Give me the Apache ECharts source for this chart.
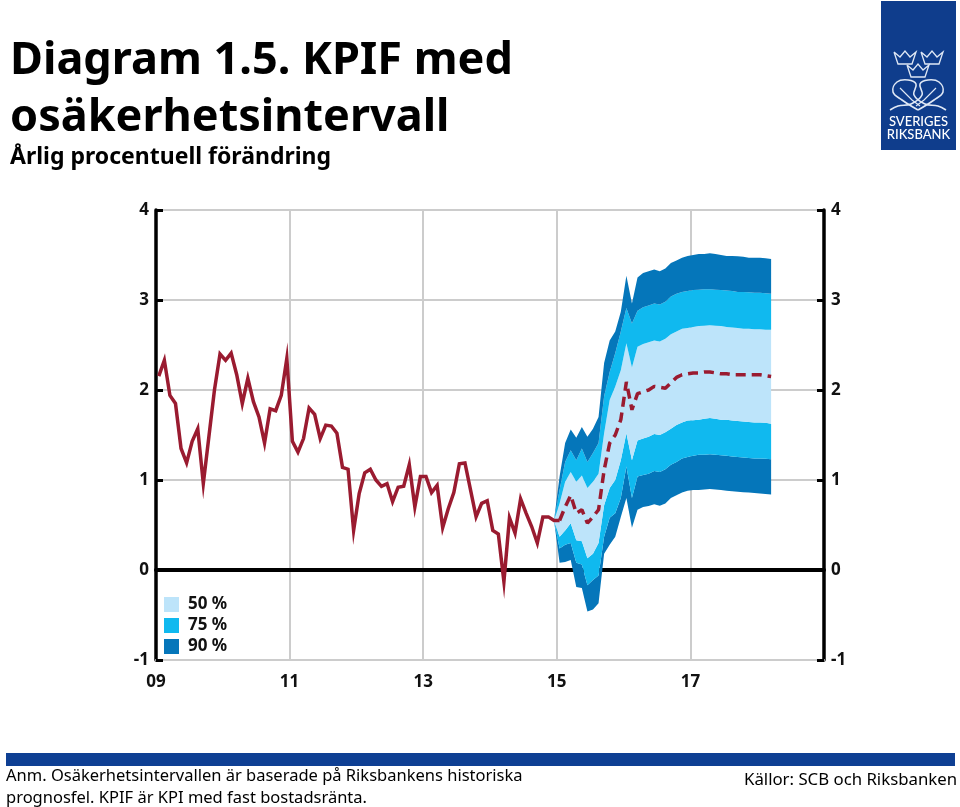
<!DOCTYPE html>
<html><head><meta charset="utf-8">
<style>html,body{margin:0;padding:0;background:#fff}#c{width:960px;height:807px}</style>
<script src="https://cdn.jsdelivr.net/npm/echarts@6/dist/echarts.min.js"></script>
</head><body><div id="c"></div>
<script>
const yearTicks = ['09','11','13','15','17'];
const history = [2.155,2.33,1.94,1.85,1.35,1.19,1.43,1.57,0.96,1.48,2.0,2.40,2.33,2.41,2.17,1.85,2.13,1.87,1.70,1.41,1.79,1.77,1.94,2.35,1.43,1.31,1.46,1.80,1.73,1.46,1.61,1.60,1.52,1.14,1.12,
 0.44,0.85,1.08,1.12,1.0,0.93,0.96,0.76,0.92,0.93,1.17,0.70,1.04,1.04,0.86,0.94,0.47,0.68,0.86,1.18,1.19,0.89,0.59,0.74,0.77,0.44,0.40,-0.13,0.58,0.41,0.79,0.63,0.48,0.30,0.59,0.59,0.55,0.55];
// forecast arrays start at month index 71
const forecastStart = 71;
const median = [0.55,0.55,0.70,0.83,0.63,0.67,0.52,0.59,0.67,1.11,1.41,1.50,1.67,2.09,1.78,1.96,1.98,2.00,2.04,2.03,2.02,2.08,2.14,2.17,2.18,2.19,2.19,2.20,2.20,2.19,2.18,2.18,2.17,2.17,2.17,2.17,2.17,2.17,2.16,2.15];
const lower90 = [0.55,0.08,0.09,0.11,-0.19,-0.20,-0.46,-0.44,-0.37,0.18,0.28,0.37,0.59,0.80,0.47,0.67,0.70,0.71,0.73,0.715,0.74,0.80,0.83,0.86,0.88,0.89,0.89,0.895,0.90,0.895,0.89,0.88,0.875,0.87,0.865,0.86,0.855,0.85,0.845,0.84];
const lower75 = [0.55,0.24,0.28,0.30,0.08,0.06,-0.17,-0.11,-0.06,0.37,0.58,0.63,0.80,1.15,0.80,1.04,1.055,1.07,1.10,1.09,1.12,1.17,1.20,1.24,1.255,1.27,1.28,1.28,1.285,1.28,1.275,1.27,1.26,1.255,1.25,1.245,1.24,1.24,1.235,1.23];
const lower50 = [0.55,0.37,0.44,0.52,0.33,0.32,0.13,0.18,0.30,0.72,0.91,1.00,1.22,1.52,1.22,1.44,1.46,1.48,1.51,1.50,1.53,1.57,1.61,1.64,1.66,1.665,1.67,1.68,1.69,1.68,1.67,1.67,1.66,1.655,1.65,1.645,1.64,1.64,1.635,1.625];
const upper50 = [0.55,0.74,0.98,1.09,0.98,1.05,0.91,0.98,1.07,1.52,1.89,2.04,2.22,2.52,2.25,2.48,2.51,2.53,2.55,2.54,2.57,2.62,2.65,2.68,2.69,2.70,2.71,2.715,2.72,2.715,2.71,2.70,2.695,2.69,2.68,2.68,2.675,2.675,2.67,2.67];
const upper75 = [0.55,0.89,1.20,1.33,1.22,1.35,1.20,1.30,1.41,1.93,2.20,2.41,2.65,2.91,2.74,2.88,2.92,2.94,2.96,2.95,2.98,3.04,3.07,3.09,3.10,3.11,3.115,3.12,3.12,3.115,3.11,3.105,3.10,3.09,3.09,3.085,3.08,3.08,3.075,3.07];
const upper90 = [0.55,1.04,1.41,1.56,1.47,1.59,1.48,1.57,1.70,2.30,2.55,2.65,2.87,3.27,2.96,3.25,3.30,3.32,3.34,3.32,3.35,3.41,3.44,3.47,3.49,3.50,3.51,3.51,3.52,3.51,3.50,3.49,3.49,3.485,3.48,3.47,3.47,3.47,3.465,3.455];

const months = [];
for (let y = 2009; y < 2019; y++) for (let m = 1; m <= 12; m++) months.push(y + '-' + m);

const DARK='#0576ba', MID='#10b9ef', LIGHT='#bde4fa', RED='#9a1b30', LOGO='#0f3d8c';
const LABEL='"Noto Sans","Open Sans",sans-serif';
const bandSeries = (name, color, hi, lo) => ({
  name, type:'line', stack:'band', stackStrategy:'all', symbol:'none', z:3, silent:true,
  lineStyle:{width:0,opacity:0}, itemStyle:{color}, areaStyle:{color,opacity:1},
  data: hi.map((v,k)=>[forecastStart+k, lo ? +(v-lo[k]).toFixed(3) : v])
});
const layers = [
  Object.assign(bandSeries('base','transparent',lower90),{areaStyle:{opacity:0}}),
  bandSeries('90 %',DARK,lower75,lower90),
  bandSeries('75 %',MID,lower50,lower75),
  bandSeries('50 %',LIGHT,upper50,lower50),
  bandSeries('75 %',MID,upper75,upper50),
  bandSeries('90 %',DARK,upper90,upper75)
];
const crown = (cx,cy) => ({type:'polyline',z:11,shape:{points:[[cx-11,cy-6],[cx-7,cy+6],[cx+7,cy+6],[cx+11,cy-6],[cx+5,cy-1],[cx,cy-7],[cx-5,cy-1],[cx-11,cy-6]]},style:{stroke:'#dfe8f5',fill:'transparent',lineWidth:1.3}});
const chart = echarts.init(document.getElementById('c'),null,{renderer:'canvas'});
chart.setOption({
  animation:false,
  title:[
    {text:'Diagram 1.5. KPIF med\nosäkerhetsintervall',left:5,top:28,textStyle:{fontFamily:LABEL,fontWeight:'bold',fontSize:45,lineHeight:57,color:'#000'}},
    {text:'Årlig procentuell förändring',left:5,top:141,textStyle:{fontFamily:LABEL,fontWeight:'bold',fontSize:23,color:'#000'}},
    {text:'Anm. Osäkerhetsintervallen är baserade på Riksbankens historiska\nprognosfel. KPIF är KPI med fast bostadsränta.',left:1,top:760,textStyle:{fontFamily:LABEL,fontWeight:'normal',fontSize:16.5,lineHeight:22,color:'#000'}},
    {text:'Källor: SCB och Riksbanken',left:739,top:767,textStyle:{fontFamily:LABEL,fontWeight:'normal',fontSize:16.8,color:'#000'}}
  ],
  grid:{left:156,right:136,top:210,height:450,containLabel:false},
  legend:{data:['50 %','75 %','90 %'],orient:'vertical',left:159,top:591,itemWidth:15,itemHeight:15,itemGap:4,icon:'rect',selectedMode:false,
    textStyle:{fontFamily:LABEL,fontWeight:'bold',fontSize:17,lineHeight:15,color:'#111',padding:[0,0,0,4]}},
  xAxis:[
    {type:'category',data:months,boundaryGap:true,position:'bottom',
      axisLine:{onZero:false,lineStyle:{color:'#ccc',width:2}},axisTick:{show:false},
      splitLine:{show:true,interval:23,lineStyle:{color:'#ccc',width:2}},
      axisLabel:{show:true,interval:23,margin:14,padding:[0,5.6,0,0],fontFamily:LABEL,fontWeight:'bold',fontSize:17,color:'#111',
        formatter:(v,i)=>yearTicks[i/24]}},
    {type:'category',data:months,boundaryGap:true,position:'bottom',
      axisLine:{onZero:true,lineStyle:{color:'#000',width:4}},axisTick:{show:false},splitLine:{show:false},axisLabel:{show:false}}
  ],
  yAxis:[
    {type:'value',min:-1,max:4,interval:1,position:'left',
      axisLine:{show:true,onZero:false,lineStyle:{color:'#000',width:3.5}},
      axisTick:{show:true,inside:true,length:7,lineStyle:{color:'#000',width:3}},
      splitLine:{show:true,lineStyle:{color:'#ccc',width:2}},
      axisLabel:{margin:7,fontFamily:LABEL,fontWeight:'bold',fontSize:17,color:'#111'}},
    {type:'value',min:-1,max:4,interval:1,position:'right',
      axisLine:{show:true,onZero:false,lineStyle:{color:'#000',width:3.5}},
      axisTick:{show:true,inside:true,length:7,lineStyle:{color:'#000',width:3}},
      splitLine:{show:false},
      axisLabel:{margin:7,fontFamily:LABEL,fontWeight:'bold',fontSize:17,color:'#111'}}
  ],
  series:[
    ...layers,
    {name:'KPIF',type:'line',symbol:'none',z:5,silent:true,lineStyle:{color:RED,width:3.5,join:'miter'},
      data:history.map((v,i)=>[i,v])},
    {name:'Prognos',type:'line',symbol:'none',z:5,silent:true,lineStyle:{color:RED,width:3.5,type:[10,6]},
      data:median.slice(1).map((v,k)=>[forecastStart+1+k,v])}
  ],
  graphic:[
    {type:'rect',shape:{x:6,y:753,width:949,height:13},style:{fill:'#0e3f93'},z:10},
    {type:'rect',shape:{x:881,y:1,width:75,height:149},style:{fill:LOGO},z:10},
    crown(905,58),crown(932,58),crown(918,71),
    {type:'polyline',z:11,shape:{smooth:0.4,points:[[918,110],[902,100],[893,92],[897,82],[908,80],[916,84],[914,95],[925,104],[938,106],[946,110]]},style:{stroke:'#dfe8f5',fill:'transparent',lineWidth:1.6}},
    {type:'polyline',z:11,shape:{smooth:0.4,points:[[918,110],[934,100],[943,92],[939,82],[928,80],[920,84],[922,95],[911,104],[898,106],[890,110]]},style:{stroke:'#dfe8f5',fill:'transparent',lineWidth:1.6}},
    {type:'polyline',z:11,shape:{points:[[900,88],[912,100],[920,106]]},style:{stroke:'#dfe8f5',fill:'transparent',lineWidth:1.2}},
    {type:'polyline',z:11,shape:{points:[[936,88],[924,100],[916,106]]},style:{stroke:'#dfe8f5',fill:'transparent',lineWidth:1.2}},
    {type:'text',z:11,style:{x:918.5,y:122,text:'SVERIGES',align:'center',verticalAlign:'middle',fill:'#fff',font:'500 13px Lato,sans-serif'}},
    {type:'text',z:11,style:{x:918.5,y:135,text:'RIKSBANK',align:'center',verticalAlign:'middle',fill:'#fff',font:'500 13px Lato,sans-serif'}}
  ]
});
</script></body></html>
